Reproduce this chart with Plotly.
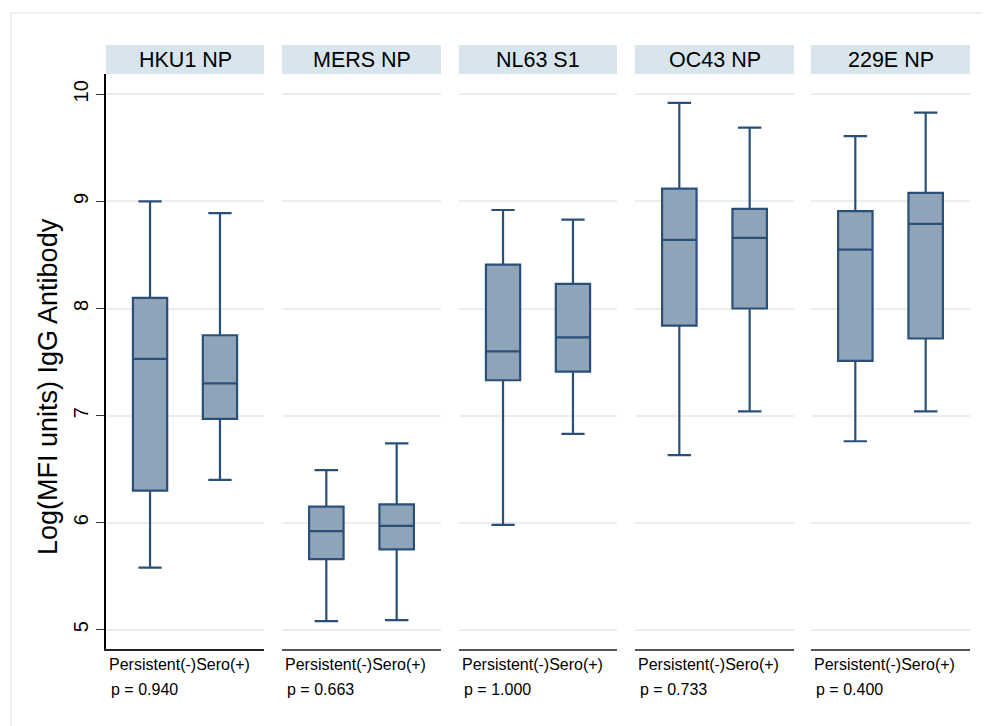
import plotly.graph_objects as go

# ---- data ----
panels = ["HKU1 NP", "MERS NP", "NL63 S1", "OC43 NP", "229E NP"]
groups = ["Persistent(-)", "Sero(+)"]
p_values = ["0.940", "0.663", "1.000", "0.733", "0.400"]
lower_fence = [[5.58, 6.40], [5.08, 5.09], [5.98, 6.83], [6.63, 7.04], [6.76, 7.04]]
q1_vals = [[6.30, 6.97], [5.66, 5.75], [7.33, 7.41], [7.84, 8.00], [7.51, 7.72]]
median_vals = [[7.53, 7.30], [5.92, 5.97], [7.60, 7.73], [8.64, 8.66], [8.55, 8.79]]
q3_vals = [[8.10, 7.75], [6.15, 6.17], [8.41, 8.23], [9.12, 8.93], [8.91, 9.08]]
upper_fence = [[9.00, 8.89], [6.49, 6.74], [8.92, 8.83], [9.92, 9.69], [9.61, 9.83]]
y_ticks = [5, 6, 7, 8, 9, 10]
y_title = "Log(MFI units) IgG Antibody"

# ---- layout geometry (page pixels; page body has an 8px margin) ----
OFF = 8
W, H = 990 - OFF, 726 - OFF
panel_px = [(106, 264), (282, 441), (459, 617), (635, 794), (811, 970)]
plot_top, plot_bottom = 74, 649
strip_top = 45
FONT = "Liberation Sans, Arial, Helvetica, sans-serif"
BOX_LINE = "#2a5079"
BOX_FILL = "#8fa4b8"

def px_x(v):
    return (v - OFF) / W

def px_y(v):
    return 1 - (v - OFF) / H

fig = go.Figure()
layout = dict(
    width=W, height=H, margin=dict(l=0, r=0, t=0, b=0),
    paper_bgcolor="white", plot_bgcolor="white",
    showlegend=False, font=dict(family=FONT, color="black"),
)
shapes = []
annotations = []

for i, name in enumerate(panels):
    n = i + 1
    xa = "x" if n == 1 else f"x{n}"
    ya = "y" if n == 1 else f"y{n}"
    fig.add_trace(go.Box(
        x=[0, 1],
        q1=q1_vals[i], median=median_vals[i], q3=q3_vals[i],
        lowerfence=lower_fence[i], upperfence=upper_fence[i],
        width=0.49, whiskerwidth=0.68,
        fillcolor=BOX_FILL, line=dict(color=BOX_LINE, width=2.2),
        boxpoints=False, hoverinfo="skip",
        xaxis=xa, yaxis=ya,
    ))
    x0, x1 = panel_px[i]
    layout[f"xaxis{'' if n == 1 else n}"] = dict(
        domain=[px_x(x0), px_x(x1)], range=[-0.63, 1.63],
        anchor=ya, showticklabels=False, showgrid=False, zeroline=False,
        showline=True, linecolor="#555555" if n > 1 else "#222222", linewidth=2,
        ticks="", fixedrange=True,
    )
    ycfg = dict(
        domain=[px_y(plot_bottom), px_y(plot_top)], range=[4.82, 10.19],
        anchor=xa, tickvals=y_ticks, showgrid=True, gridcolor="#e8eef2",
        gridwidth=1.5, zeroline=False, fixedrange=True,
    )
    if n == 1:
        ycfg.update(showticklabels=True, ticks="outside", ticklen=8,
                    tickwidth=1.2, tickcolor="#333333", showline=True,
                    linecolor="black", linewidth=1.5, tickangle=-90,
                    tickfont=dict(size=20, family=FONT))
    else:
        ycfg.update(showticklabels=False, ticks="", showline=False, matches="y")
    layout[f"yaxis{'' if n == 1 else n}"] = ycfg

    # strip header
    shapes.append(dict(type="rect", xref="paper", yref="paper",
                       x0=px_x(x0), x1=px_x(x1), y0=px_y(plot_top), y1=px_y(strip_top),
                       fillcolor="#d9e5ec", line=dict(width=0), layer="below"))
    annotations.append(dict(xref="paper", yref="paper", x=px_x((x0 + x1) / 2),
                            y=px_y((plot_top + strip_top) / 2), text=name,
                            showarrow=False, xanchor="center", yanchor="middle",
                            font=dict(size=21.5, family=FONT, color="black")))
    # bottom notes
    annotations.append(dict(xref="paper", yref="paper", x=px_x(x0 + 1),
                            y=px_y(664), text="".join(groups), showarrow=False,
                            xanchor="left", yanchor="middle",
                            font=dict(size=16, family=FONT, color="black")))
    annotations.append(dict(xref="paper", yref="paper", x=px_x(x0 + 3),
                            y=px_y(689), text=f"p = {p_values[i]}", showarrow=False,
                            xanchor="left", yanchor="middle",
                            font=dict(size=16, family=FONT, color="black")))

# y-axis title
annotations.append(dict(xref="paper", yref="paper", x=px_x(48), y=px_y(387),
                        text=y_title, textangle=-90, showarrow=False,
                        xanchor="center", yanchor="middle",
                        font=dict(size=27, family=FONT, color="black")))
# outer frame
shapes.append(dict(type="rect", xref="paper", yref="paper",
                   x0=px_x(11), x1=1.05, y0=-0.05, y1=px_y(13),
                   line=dict(color="#e5ecef", width=1.5), fillcolor="rgba(0,0,0,0)",
                   layer="below"))

layout["shapes"] = shapes
layout["annotations"] = annotations
fig.update_layout(**layout)
fig.write_html("out.html")
